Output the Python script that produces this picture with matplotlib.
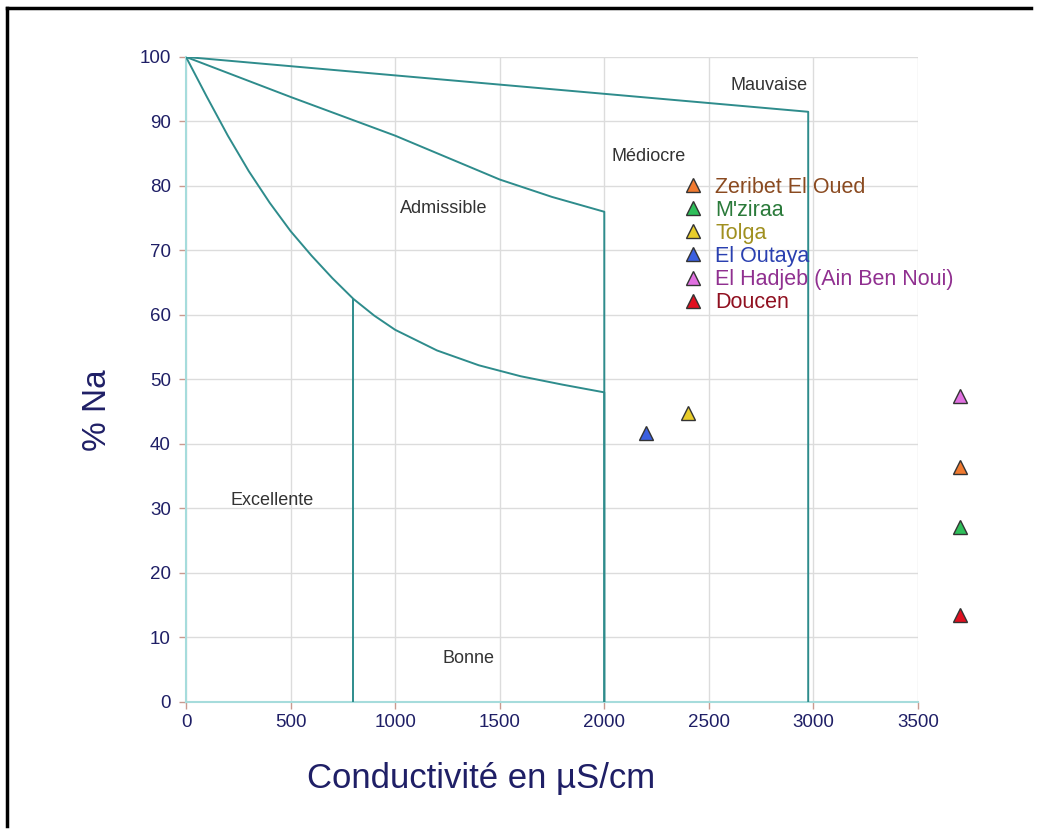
import matplotlib.pyplot as plt
from matplotlib.lines import Line2D

plt.rcParams['font.family'] = ['Liberation Sans', 'DejaVu Sans']

# Wilcox diagram boundaries (conductivity in uS/cm, % Na)
limit_top_x = [0, 2975, 2975]
limit_top_y = [100, 91.5, 0]

limit_mid_x = [0, 500, 1000, 1500, 1750, 2000, 2000]
limit_mid_y = [100, 93.8, 87.8, 81.0, 78.3, 76.0, 0]

limit_low_x = [0, 100, 200, 300, 400, 500, 600, 700, 800, 900, 1000,
               1200, 1400, 1600, 1800, 2000, 2000]
limit_low_y = [100, 93.8, 87.8, 82.3, 77.4, 73.0, 69.2, 65.7, 62.5, 59.9, 57.7,
               54.5, 52.2, 50.5, 49.2, 48.0, 0]

limit_exc_x = [800, 800]
limit_exc_y = [62.5, 0]

# sampling sites
sites = ['Zeribet El Oued', "M'ziraa", 'Tolga', 'El Outaya',
         'El Hadjeb (Ain Ben Noui)', 'Doucen']
conductivity = [3700, 3700, 2400, 2200, 3700, 3700]
sodium_pct = [36.4, 27.1, 44.8, 41.7, 47.4, 13.5]
marker_colors = ['#f07a30', '#2fbf5a', '#e8cc2a', '#3a5fe0', '#e070e0', '#e01020']
text_colors = ['#8a4a20', '#2a7a3a', '#a09020', '#2a40b0', '#903090', '#901020']

classes = ['Mauvaise', 'Médiocre', 'Admissible', 'Excellente', 'Bonne']
class_x = [2790, 2210, 1230, 410, 1350]
class_y = [95.5, 84.5, 76.5, 31.2, 6.7]

teal = '#2e8c8c'
navy = '#1f1f66'

fig = plt.figure(figsize=(10.38, 8.34), dpi=100)
ax = fig.add_axes([0.1792, 0.1583, 0.7052, 0.7734])

for xs, ys in [(limit_top_x, limit_top_y), (limit_mid_x, limit_mid_y),
               (limit_low_x, limit_low_y), (limit_exc_x, limit_exc_y)]:
    ax.plot(xs, ys, color=teal, linewidth=1.4, zorder=3)

for name, x, y in zip(classes, class_x, class_y):
    ax.text(x, y, name, fontsize=13, color='#333333', ha='center', va='center')

for x, y, c in zip(conductivity, sodium_pct, marker_colors):
    ax.plot(x, y, marker='^', markersize=10, markerfacecolor=c,
            markeredgecolor='#333333', markeredgewidth=1.0,
            linestyle='none', clip_on=False, zorder=5)

handles = [Line2D([], [], marker='^', linestyle='none', markersize=10,
                  markerfacecolor=c, markeredgecolor='#333333', markeredgewidth=1.0)
           for c in marker_colors]
leg = ax.legend(handles, sites, loc='upper left', bbox_to_anchor=(0.666, 0.828),
                frameon=False, fontsize=15.5, handletextpad=0.55, labelspacing=0.1,
                borderaxespad=0, handlelength=1.0)
for t, c in zip(leg.get_texts(), text_colors):
    t.set_color(c)

ax.set_xlim(0, 3500)
ax.set_ylim(0, 100)
ax.set_xticks(range(0, 3501, 500))
ax.set_yticks(range(0, 101, 10))
ax.grid(True, color='#dcdcdc', linewidth=1.0)
ax.set_axisbelow(True)

for side in ['top', 'right']:
    ax.spines[side].set_visible(False)
for side in ['left', 'bottom']:
    ax.spines[side].set_color('#a6dcdc')
    ax.spines[side].set_linewidth(1.5)

ax.tick_params(axis='both', colors='#c89a90', labelcolor=navy, labelsize=13.5,
               length=5, width=1)
ax.tick_params(axis='y', pad=6)

ax.set_xlabel('Conductivité en µS/cm', fontsize=25, color=navy)
ax.set_ylabel('% Na', fontsize=24, color=navy)
ax.xaxis.set_label_coords(0.403, -0.093)
ax.yaxis.set_label_coords(-0.100, 0.453)

# page frame
fig.add_artist(Line2D([0.007, 0.007], [0.01, 0.991], color='black', linewidth=2.5,
                      transform=fig.transFigure))
fig.add_artist(Line2D([0.007, 0.993], [0.991, 0.991], color='black', linewidth=2.5,
                      transform=fig.transFigure))

fig.savefig('out.png', dpi=100)
